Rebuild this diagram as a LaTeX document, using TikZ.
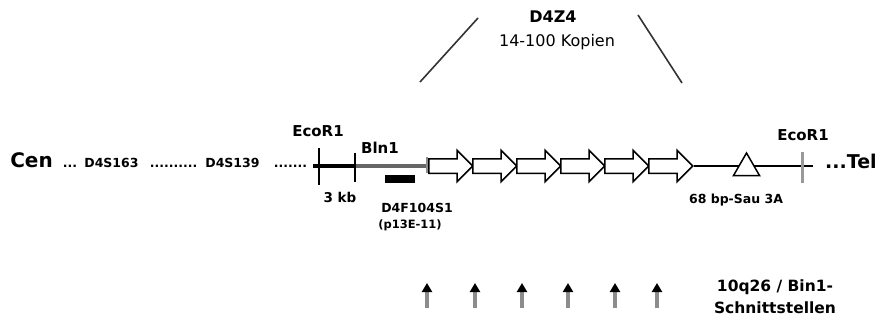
\documentclass[tikz,border=0pt]{standalone}
\usepackage{fontspec}
\setmainfont{DejaVu Sans}
\usetikzlibrary{arrows.meta,positioning,shapes.arrows,shapes.geometric}
\tikzset{
 lbl/.style={inner sep=0pt,anchor=base,font=\bfseries\fontsize{#1}{#1}\selectfont},
 repunit/.style={single arrow,draw,fill=white,line width=1.5pt,inner sep=6.5pt,
   single arrow head extend=8.5pt,minimum height=44pt,anchor=tail},
 cutsite/.style={line width=3.2pt,black!45,-{Triangle[length=9pt,width=10pt,color=black,fill=black]}},
}

\begin{document}
\begin{tikzpicture}[x=1pt,y=-1pt,>=Stealth]
 \useasboundingbox (0,0) rectangle (880,322);
 % 4q35 markers
 \node[lbl=20] (cen) at (31.5,167) {Cen};
 \node[lbl=12.5] (d0) at (70,167) {...};
 \node[lbl=12.5] (m1) at (111.5,167) {D4S163};
 \node[lbl=12.5] (d1) at (173.5,167) {..........};
 \node[lbl=12.5] (m2) at (232.5,167) {D4S139};
 \node[lbl=12.5] (d2) at (290.5,167) {.......};
 \coordinate (lend) at (313,166);
 \coordinate (eco) at (319,166);
 \coordinate (bln) at (355,166);
 \coordinate (bend) at (427,166);
 \draw[line width=3.5pt] (lend) -- (bln);
 \draw[line width=3.5pt,black!60] (bln) -- (bend);
 \draw[line width=1.8pt] (eco) ++(0,-18) -- ++(0,37);
 \draw[line width=1.8pt] (bln) ++(0,-13) -- ++(0,29);
 \draw[line width=1.8pt,black!45] (bend) ++(0,-9) -- ++(0,16);
 \node[lbl=15] (ecol) at (318,136) {EcoR1};
 \node[lbl=15] (blnl) at (380,153) {Bln1};
 \node[lbl=13.5] (kb) at (340,202) {3 kb};
 \node[fill=black,inner sep=0pt,minimum width=30pt,minimum height=8pt] (probe) at (400,179) {};
 \node[lbl=12.5] (prname) at (417,212) {D4F104S1};
 \node[lbl=11.5] (prclone) at (410,228) {(p13E-11)};
 % D4Z4 repeats
 \foreach \i in {1,...,6}
  \node[repunit] (r\i) at ({428+44*(\i-1)},166) {};
 \coordinate (rend) at (813,166);
 \coordinate (ecor) at (802,166);
 \draw[line width=1.6pt] (r6.tip) -- (rend);
 \node[regular polygon,regular polygon sides=3,draw,fill=white,line width=1.5pt,
   inner sep=0pt,minimum size=30pt] (sau) at (746.5,168) {};
 \draw[line width=3pt,black!40] (ecor) ++(0,-14) -- ++(0,31);
 \node[lbl=12.5] (saul) at (736,203) {68 bp-Sau 3A};
 \node[lbl=15] (ecorl) at (803,140) {EcoR1};
 \node[lbl=19,anchor=base west] (tel) at (825,168) {...Tel};
 \node[lbl=16] (dz) at (553,22.5) {D4Z4};
 \node[inner sep=0pt,anchor=base,font=\fontsize{16}{19}\selectfont] (kop) at (557,46) {14-100 Kopien};
 \coordinate (zl1) at (420,82);
 \coordinate (zl2) at (478,18);
 \coordinate (zr1) at (638,15);
 \coordinate (zr2) at (682,83);
 \draw[line width=1.6pt,black!80] (zl1) -- (zl2);
 \draw[line width=1.6pt,black!80] (zr1) -- (zr2);
 % cut sites
 \foreach \x [count=\i] in {427,475,522,568,615,657} {
  \coordinate (cb\i) at (\x,308);
  \coordinate (ct\i) at (\x,283);
  \draw[cutsite] (cb\i) -- (ct\i);
 }
 \node[lbl=15.5] (cutl1) at (775,291.5) {10q26 / Bin1-};
 \node[lbl=15.5] (cutl2) at (775,313) {Schnittstellen};
\end{tikzpicture}
\end{document}
